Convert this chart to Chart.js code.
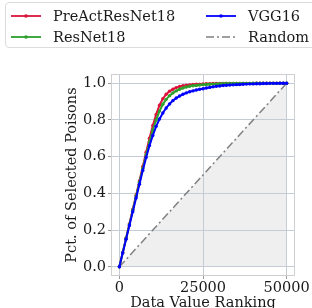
<!DOCTYPE html>
<html>
<head>
<meta charset="utf-8">
<script src="https://cdn.jsdelivr.net/npm/chart.js@4.4.1/dist/chart.umd.min.js"></script>
<style>
  html, body { margin: 0; padding: 0; overflow: hidden; background: #fff; }
  #wrap { position: relative; width: 312px; height: 308px; }
  #legend {
    position: absolute; left: 5px; top: 2px; width: 312px; height: 46px;
    border: 1px solid #dcdcdc; border-radius: 4px; box-sizing: border-box;
    font-family: "DejaVu Serif", serif; font-size: 14.5px; color: #1a1a1a;
  }
  .item { position: absolute; height: 16px; line-height: 16px; white-space: nowrap; }
  .item svg { position: absolute; left: 0; top: 0; }
  .item span { position: absolute; left: 42px; top: 0; }
</style>
</head>
<body>
<div id="wrap">
  <canvas id="chart" width="312" height="308"></canvas>
  <div id="legend"></div>
</div>
<script>
// x positions (data value ranking)
const ranks = [];
for (let i = 0; i <= 50; i++) ranks.push(i * 1000);

const preact = [0, 0.078, 0.156, 0.234, 0.312, 0.39, 0.468, 0.546, 0.624, 0.70,
  0.77, 0.83, 0.88, 0.915, 0.94, 0.956, 0.967, 0.976, 0.982, 0.986,
  0.989, 0.991, 0.993, 0.994, 0.995, 0.996, 0.997, 0.997, 0.998, 0.998,
  0.998, 0.999, 0.999, 0.999, 0.999, 0.999, 0.999, 0.999, 0.999, 0.999,
  0.999, 1, 1, 1, 1, 1, 1, 1, 1, 1, 1];

const resnet = [0, 0.077, 0.154, 0.231, 0.308, 0.385, 0.46, 0.535, 0.61, 0.68,
  0.745, 0.80, 0.848, 0.885, 0.912, 0.932, 0.947, 0.958, 0.967, 0.974,
  0.979, 0.983, 0.986, 0.988, 0.990, 0.992, 0.993, 0.994, 0.995, 0.996,
  0.997, 0.997, 0.998, 0.998, 0.998, 0.999, 0.999, 0.999, 0.999, 0.999,
  1, 1, 1, 1, 1, 1, 1, 1, 1, 1, 1];

const vgg = [0, 0.075, 0.15, 0.225, 0.30, 0.375, 0.45, 0.525, 0.595, 0.66,
  0.715, 0.765, 0.805, 0.838, 0.865, 0.887, 0.905, 0.919, 0.93, 0.94,
  0.947, 0.953, 0.958, 0.963, 0.967, 0.970, 0.974, 0.977, 0.980, 0.983,
  0.985, 0.987, 0.989, 0.990, 0.991, 0.992, 0.993, 0.994, 0.995, 0.996,
  0.996, 0.997, 0.997, 0.998, 0.998, 0.999, 0.999, 0.999, 1, 1, 1];

const randomX = [0, 50000];
const randomY = [0, 1];

const xTicks = [0, 25000, 50000];
const yTicks = [0, 0.2, 0.4, 0.6, 0.8, 1.0];

const names = ['PreActResNet18', 'ResNet18', 'VGG16', 'Random'];
const colors = ['#dc143c', '#2ca02c', '#0000ff', '#808080'];

const toPts = (xs, ys) => xs.map((x, i) => ({ x: x, y: ys[i] }));
const serif = '"DejaVu Serif", serif';
const fsize = 14.5;

function curve(label, ys, color) {
  return {
    label: label,
    data: toPts(ranks, ys),
    borderColor: color,
    backgroundColor: color,
    borderWidth: 2,
    pointRadius: 1.7,
    pointHoverRadius: 1.7,
    pointBorderWidth: 0,
    fill: false
  };
}

// light frame around the plot area
const framePlugin = {
  id: 'frame',
  afterDatasetsDraw(chart) {
    const a = chart.chartArea, ctx = chart.ctx;
    ctx.save();
    ctx.strokeStyle = '#cfcfcf';
    ctx.lineWidth = 1;
    ctx.strokeRect(a.left + 0.5, a.top + 0.5, a.right - a.left - 1, a.bottom - a.top - 1);
    ctx.restore();
  }
};

const ctx = document.getElementById('chart').getContext('2d');
const chart = new Chart(ctx, {
  type: 'line',
  data: {
    datasets: [
      {
        label: names[3],
        data: toPts(randomX, randomY),
        borderColor: colors[3],
        backgroundColor: '#efefef',
        borderWidth: 1.5,
        borderDash: [8, 3, 2, 3],
        pointRadius: 0,
        fill: 'origin',
        order: 4
      },
      Object.assign(curve(names[0], preact, colors[0]), { order: 3 }),
      Object.assign(curve(names[1], resnet, colors[1]), { order: 2 }),
      Object.assign(curve(names[2], vgg, colors[2]), { order: 1 })
    ]
  },
  options: {
    responsive: false,
    animation: false,
    layout: { padding: { left: 0, right: 17, top: 74, bottom: 0 } },
    plugins: {
      legend: { display: false },
      tooltip: { enabled: false },
      filler: { drawTime: 'beforeDraw' }
    },
    scales: {
      x: {
        type: 'linear',
        min: -2500, max: 52500,
        afterBuildTicks: (s) => { s.ticks = xTicks.map(v => ({ value: v })); },
        afterFit: (s) => { s.height = 32; },
        ticks: { color: '#1a1a1a', font: { family: serif, size: fsize }, padding: 1, maxRotation: 0,
                 callback: (v) => String(v) },
        grid: { color: '#c6ccd6', lineWidth: 1, tickLength: 3, tickColor: '#999' },
        border: { display: false },
        title: { display: true, text: 'Data Value Ranking', color: '#1a1a1a',
                 font: { family: serif, size: fsize }, padding: { top: 0, bottom: -4 } }
      },
      y: {
        type: 'linear',
        min: -0.05, max: 1.05,
        afterBuildTicks: (s) => { s.ticks = yTicks.map(v => ({ value: v })); },
        afterFit: (s) => { s.width = 111; },
        ticks: { color: '#1a1a1a', font: { family: serif, size: fsize }, padding: 2,
                 callback: (v) => v.toFixed(1) },
        grid: { color: '#c6ccd6', lineWidth: 1, tickLength: 3, tickColor: '#999' },
        border: { display: false },
        title: { display: true, text: 'Pct. of Selected Poisons', color: '#1a1a1a',
                 font: { family: serif, size: fsize }, padding: { top: 64, bottom: 0 } }
      }
    }
  },
  plugins: [framePlugin]
});

// legend in two columns, like the original
const legendPos = [[5, 5], [5, 26], [200, 5], [200, 26]];
const legend = document.getElementById('legend');
names.forEach((name, i) => {
  const it = document.createElement('div');
  it.className = 'item';
  it.style.left = legendPos[i][0] + 'px';
  it.style.top = legendPos[i][1] + 'px';
  let sample;
  if (i === 3) {
    sample = '<line x1="0" y1="8" x2="30" y2="8" stroke="' + colors[i] +
      '" stroke-width="1.5" stroke-dasharray="8 3 2 3"/>';
  } else {
    sample = '<line x1="0" y1="8" x2="30" y2="8" stroke="' + colors[i] +
      '" stroke-width="1.8"/><circle cx="15" cy="8" r="1.8" fill="' + colors[i] + '"/>';
  }
  it.innerHTML = '<svg width="32" height="16">' + sample + '</svg><span>' + name + '</span>';
  legend.appendChild(it);
});
</script>
</body>
</html>
